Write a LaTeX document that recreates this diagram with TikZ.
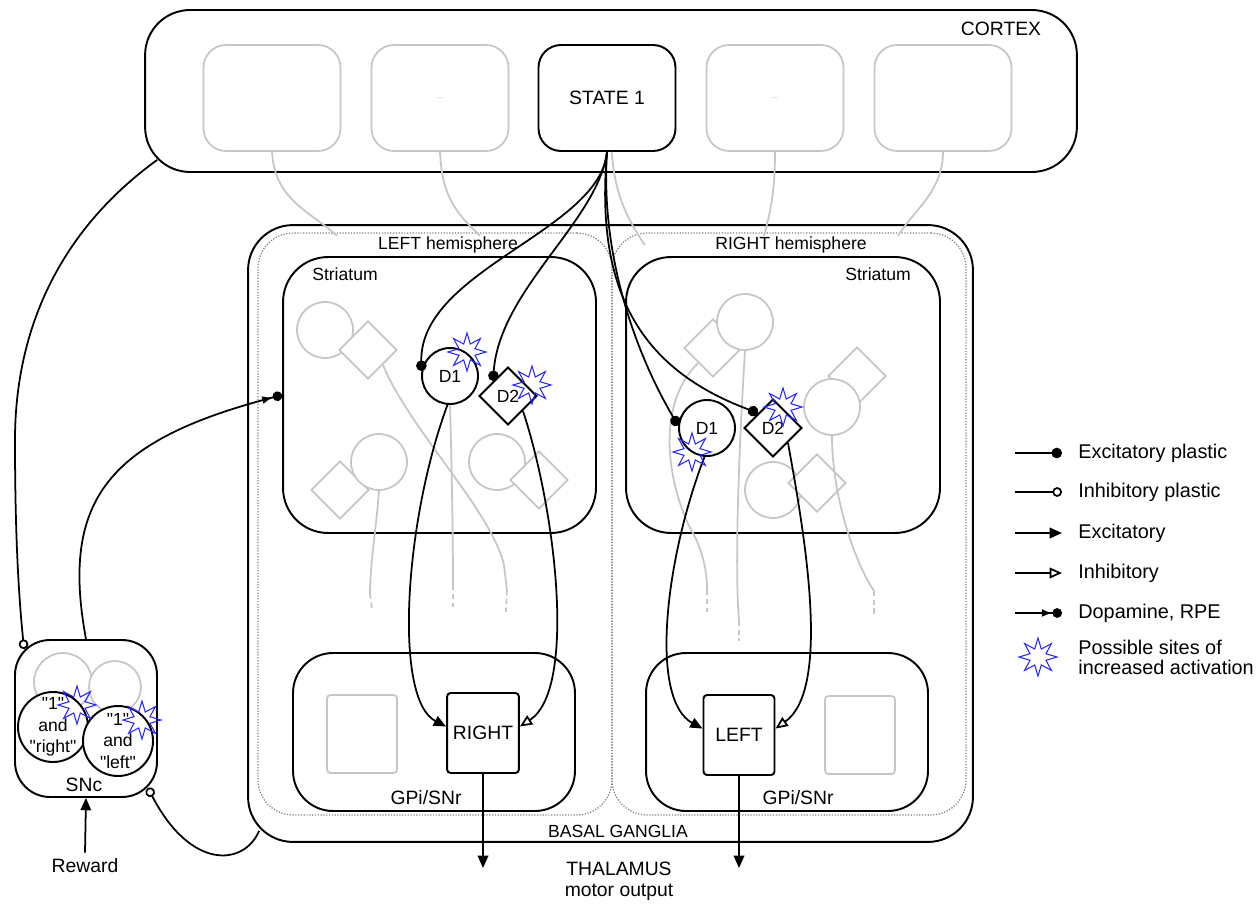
\documentclass[tikz,border=0pt]{standalone}
\usepackage{fontspec}
\setmainfont{Liberation Sans}
\usepackage{tikz}
\usetikzlibrary{positioning,calc,shapes.geometric,arrows.meta}
\tikzstyle{region} = [draw=black, line width=1.1pt, rounded corners=0.9cm]
\tikzstyle{hemi} = [draw=gray, dash pattern=on 0.7pt off 0.9pt, line width=0.7pt, rounded corners=0.7cm, minimum width=7.08cm, minimum height=11.64cm]
\tikzstyle{cell} = [draw=gray!45, line width=1pt, rounded corners=0.45cm, minimum width=2.74cm, minimum height=2.12cm]
\tikzstyle{actbox} = [draw=black, line width=1.1pt, rounded corners=2pt, minimum width=1.42cm, minimum height=1.6cm]
\tikzstyle{small} = [font=\fontsize{10}{12}\selectfont]
\tikzstyle{gcirc} = [circle, draw=gray!45, line width=1pt, fill=white, minimum size=1.12cm, inner sep=0]
\tikzstyle{gdiam} = [diamond, aspect=1, draw=gray!45, line width=1pt, fill=white, minimum size=1.16cm, inner sep=0]
\tikzstyle{dcirc} = [circle, draw=black, line width=1.1pt, fill=white, minimum size=1.12cm, inner sep=0, font=\fontsize{10}{12}\selectfont]
\tikzstyle{ddiam} = [diamond, aspect=1, draw=black, line width=1.1pt, fill=white, minimum size=1.16cm, inner sep=0, font=\fontsize{10}{12}\selectfont]
\tikzstyle{pop} = [circle, draw=black, line width=1.1pt, fill=white, minimum size=1.4cm, inner sep=0]
\tikzstyle{spark} = [star, star points=8, star point ratio=2.2, draw=blue!85, line width=0.6pt, minimum size=0.76cm, inner sep=0]
\tikzstyle{axon} = [draw=gray!45, line width=1pt]
\tikzstyle{tail} = [dash pattern=on 3pt off 2pt]
\tikzstyle{legend} = [anchor=west, inner sep=0, font=\fontsize{11.3}{11.5}\selectfont]
\tikzstyle{excpl} = [line width=1pt, -{Circle[length=6pt]}]
\tikzstyle{inhpl} = [line width=1pt, -{Circle[open, length=5.5pt, line width=1pt]}]
\tikzstyle{exc} = [line width=1pt, -{Triangle[length=7pt, width=6pt]}]
\tikzstyle{inh} = [line width=1pt, -{Triangle[open, length=7pt, width=6pt, line width=1pt]}]
\tikzstyle{dopa} = [line width=1pt, -{Latex[length=6pt, width=4.5pt] Circle[length=5.5pt]}]
\newcommand{\qt}[1]{\textquotedbl #1\textquotedbl}

\begin{document}
\begin{tikzpicture}[x=0.02cm, y=-0.02cm, font=\fontsize{11}{13}\selectfont]
\useasboundingbox (0,0) rectangle (1258,906);

% cortex
\node[region, minimum width=18.64cm, minimum height=3.24cm] (cortex) at (611,91) {};
\node (cortexlbl) at (1001,29) {CORTEX};
\node[cell] (c1) at (272,98) {};
\node[cell, font=\fontsize{5}{6}\selectfont, text=gray!60] (c2) at (440,98) {...};
\node[cell, draw=black, line width=1.1pt] (state) at (607,98) {STATE 1};
\node[cell, font=\fontsize{5}{6}\selectfont, text=gray!60] (c4) at (775,98) {...};
\node[cell] (c5) at (943,98) {};

% basal ganglia
\node[region, minimum width=14.5cm, minimum height=12.34cm] (bg) at (610.5,533.5) {};
\node[small] (bglbl) at (618,831) {BASAL GANGLIA};
\node[hemi] (lhemi) at (435,524) {};
\node[hemi] (rhemi) at (789,524) {};
\node[small] (lhemilbl) at (448,245) {LEFT hemisphere};
\node[small] (rhemilbl) at (791,245) {RIGHT hemisphere};
\node[region, minimum width=6.26cm, minimum height=5.52cm] (lstr) at (439.5,395) {};
\node[region, minimum width=6.28cm, minimum height=5.52cm] (rstr) at (783,395) {};
\node[small] (lstrlbl) at (345,274) {Striatum};
\node[small] (rstrlbl) at (878,274) {Striatum};
\node[region, rounded corners=0.8cm, minimum width=5.64cm, minimum height=3.16cm] (lgpi) at (434,732) {};
\node[region, rounded corners=0.8cm, minimum width=5.64cm, minimum height=3.16cm] (rgpi) at (787,732) {};
\node (lgpilbl) at (426,798) {GPi/SNr};
\node (rgpilbl) at (798,798) {GPi/SNr};
\node[cell, rounded corners=2pt, minimum width=1.4cm, minimum height=1.56cm] (lgrey) at (362,734) {};
\node[cell, rounded corners=2pt, minimum width=1.4cm, minimum height=1.56cm] (rgrey) at (860,735) {};
\node[actbox] (actright) at (483,733) {RIGHT};
\node[actbox] (actleft) at (739,735) {LEFT};

% grey neurons
\node[gcirc] (gc1) at (325,330) {};
\node[gdiam] (gd1) at (368,350) {};
\node[gdiam] (gd3) at (340,490) {};
\node[gcirc] (gc3) at (379,462) {};
\node[gcirc] (gc4) at (497,462) {};
\node[gdiam] (gd4) at (539,480) {};
\node[gdiam] (gd5) at (713,348) {};
\node[gcirc] (gc5) at (745,322) {};
\node[gdiam] (gd6) at (857,376) {};
\node[gcirc] (gc6) at (832,407) {};
\node[gcirc] (gc7) at (773,490) {};
\node[gdiam] (gd7) at (817,483) {};

\draw[axon] (c1.south) .. controls +(3,49) and +(-27,-25) .. ++(65,84);
\draw[axon] (c2.south) .. controls +(2,49) and +(-20,-20) .. ++(40,84);
\draw[axon] (state.-85) .. controls +(3,40) and +(-20,-30) .. ++(33,93);
\draw[axon] (c4.south) .. controls +(0,45) and +(5,-20) .. ++(-11,84);
\draw[axon] (c5.south) .. controls +(0,40) and +(15,-25) .. ++(-45,84);

\draw[axon] (gd1.south east) .. controls +(27,65) and +(-13,-55) .. ++(121,200) -- ++(3,25) coordinate (tailA);
\draw[axon] (gc3.south) .. controls +(-3,40) and +(0,-30) .. ++(-9,103) coordinate (tailC);
\draw[axon] (gd5.south west) .. controls +(-45,45) and +(-20,-40) .. ++(-8,165) .. controls +(12,20) and +(0,-20) .. ++(17,62) coordinate (tailD);
\draw[axon] (gc5.south) .. controls +(-5,80) and +(-5,-60) .. ++(-6,270) coordinate (tailE);
\draw[axon] (gc6.south) .. controls +(0,60) and +(-20,-30) .. ++(42,155) coordinate (tailF);

% active neurons
\node[dcirc] (ld1) at (450,376) {D1};
\node[ddiam] (ld2) at (508,396) {D2};
\node[dcirc] (rd1) at (707,428) {D1};
\node[ddiam] (rd2) at (773,428) {D2};
\draw[axon] (ld1.south) .. controls +(2,70) and +(0,-40) .. ++(3,180) coordinate (tailB);

\draw[axon, tail] (tailA) -- ++(-1,22);
\draw[axon, tail] (tailB) -- ++(0,22);
\draw[axon, tail] (tailC) -- ++(2,15);
\draw[axon, tail] (tailD) -- ++(0,22);
\draw[axon, tail] (tailE) -- ++(0,20);
\draw[axon, tail] (tailF) -- ++(0,25);

\draw[excpl] (state.south) .. controls +(-7,79) and +(-2,-101) .. (ld1.170);
\draw[excpl] (state.south) .. controls +(-9,69) and +(6.5,-91.5) .. (ld2.north west);
\draw[excpl] (state.south) .. controls +(-7,109) and +(-39,-66) .. (rd1.175);
\draw[excpl] (state.south) .. controls +(-12,139) and +(-118,-44) .. (rd2.north west);

\draw[exc] (ld1.-95) .. controls +(-43,116) and +(-53,-27) .. (actright.170);
\draw[inh] (ld2.south east) .. controls +(33,100) and +(57,-37) .. (actright.10);
\draw[exc] (rd1.-95) .. controls +(-40,104) and +(-53,-29) .. (actleft.170);
\draw[inh] (rd2.south east) .. controls +(18,98) and +(55,-39) .. (actleft.10);

% thalamus
\node (thal) at (619,869) {THALAMUS};
\node (motor) at (619,892) {motor output};
\coordinate (thR) at (483,868);
\coordinate (thL) at (739,868);
\draw[exc] (actright.south) -- (thR);
\draw[exc] (actleft.south) -- (thL);

% SNc
\node[region, rounded corners=0.7cm, minimum width=2.84cm, minimum height=3.14cm] (snc) at (86,718.5) {};
\node[gcirc, minimum size=1.16cm] (sg1) at (63,682) {};
\node[gcirc, minimum size=1.04cm] (sg2) at (115,687) {};
\node[pop] (popR) at (53,727) {};
\node[pop] (popL) at (118,741) {};
\node[align=center, font=\fontsize{10}{12.3}\selectfont] (popRtxt) at (popR) {\qt{1}\\and\\\qt{right}};
\node[align=center, font=\fontsize{10}{12.3}\selectfont] (popLtxt) at (popL) {\qt{1}\\and\\\qt{left}};
\node (snclbl) at (84,785) {SNc};
\node (reward) at (85,866) {Reward};
\draw[exc] (reward.north) -- (snc.south);

\coordinate (cvia) at (15,440);
\draw[inhpl] ($(cortex.south west)+(13,-13)$) .. controls +(-98,71) and +(0,-110) .. (cvia) .. controls +(0,100) and +(-5,-50) .. ($(snc.north west)+(10,10)$);
\draw[dopa] (snc.north) .. controls +(-26,-140) and +(-173,45) .. (lstr.west);
\draw[inhpl] ($(bg.south west)+(12,-12)$) .. controls +(-15,35) and +(43,83) .. ($(snc.south east)+(-10,-10)$);

% activation sites
\node[spark] (s1) at (467,352) {};
\node[spark] (s2) at (532,385) {};
\node[spark] (s3) at (692,452) {};
\node[spark] (s4) at (783,407) {};
\node[spark] (s5) at (77,705) {};
\node[spark] (s6) at (142,720) {};

% legend
\node[legend] (lg1) at (1078,453) {Excitatory plastic};
\node[legend] (lg2) at (1078,492) {Inhibitory plastic};
\node[legend] (lg3) at (1078,533) {Excitatory};
\node[legend] (lg4) at (1078,573) {Inhibitory};
\node[legend] (lg5) at (1078,613) {Dopamine, RPE};
\node[legend, align=left] (lg6) at (1078,657) {Possible sites of\\increased activation};
\node[spark] (lgstar) at (1038,657) {};
\draw[excpl] ([xshift=-1.26cm]lg1.west) -- ([xshift=-0.32cm]lg1.west);
\draw[inhpl] ([xshift=-1.26cm]lg2.west) -- ([xshift=-0.32cm]lg2.west);
\draw[exc] ([xshift=-1.26cm]lg3.west) -- ([xshift=-0.32cm]lg3.west);
\draw[inh] ([xshift=-1.26cm]lg4.west) -- ([xshift=-0.32cm]lg4.west);
\draw[dopa] ([xshift=-1.26cm]lg5.west) -- ([xshift=-0.32cm]lg5.west);
\end{tikzpicture}
\end{document}
